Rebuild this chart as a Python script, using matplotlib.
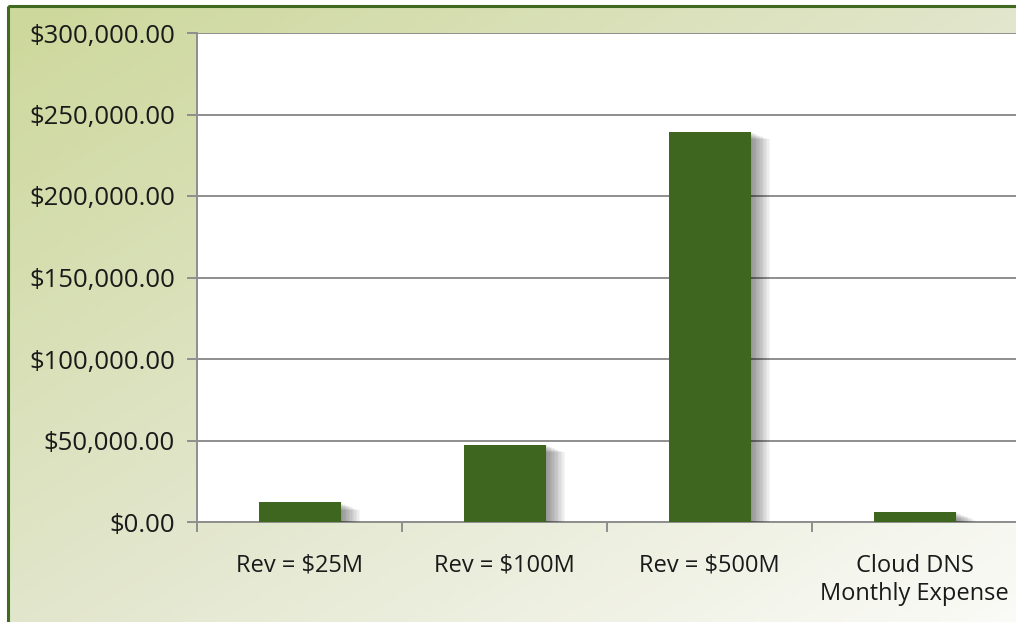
import numpy as np
import matplotlib.pyplot as plt
import matplotlib.patheffects as pe
from matplotlib.colors import LinearSegmentedColormap
from matplotlib.patches import Rectangle
from matplotlib.ticker import FuncFormatter, FixedLocator

plt.rcParams['font.family'] = ['Open Sans', 'DejaVu Sans']

categories = ['Rev = $25M', 'Rev = $100M', 'Rev = $500M', 'Cloud DNS\nMonthly Expense']
costs = [12000, 47500, 239500, 6300]
y_ticks = [0, 50000, 100000, 150000, 200000, 250000, 300000]

W, H = 1016, 622
fig = plt.figure(figsize=(W / 100, H / 100), dpi=100)

# background: white outside, green-to-white diagonal gradient inside border
bg = fig.add_axes([0, 0, 1, 1], zorder=-10)
bg.set_xlim(0, W)
bg.set_ylim(H, 0)
bg.axis('off')
u, v = np.meshgrid(np.linspace(0, 1, 300), np.linspace(0, 1, 200))
t = (u + v) / 2
cmap = LinearSegmentedColormap.from_list('bg', ['#cdd89b', '#e2e6cc', '#fbfbf8'])
bg.imshow(t, cmap=cmap, extent=(8, W + 10, H + 10, 6), aspect='auto')
bg.add_patch(Rectangle((8, 6), W + 20, H + 20, fill=False, edgecolor='#3f6a1f', lw=2.2))

ax = fig.add_axes([197 / W, 1 - 522 / H, 820 / W, 489 / H])
ax.set_facecolor('white')

x = np.arange(len(categories))
# soft drop shadow made of stacked offset copies
shadow = [pe.SimplePatchShadow(offset=(k, -k * 0.4), shadow_rgbFace='black', alpha=0.035)
          for k in range(1, 15)]
ax.bar(x, costs, width=0.4, color='#3e661e', zorder=3,
       path_effects=shadow + [pe.Normal()])

ax.set_xlim(-0.5, len(categories) - 0.5)
ax.set_ylim(0, 300000)
ax.yaxis.set_major_locator(FixedLocator(y_ticks))
ax.yaxis.set_major_formatter(FuncFormatter(lambda val, pos: f'${val:,.2f}'))
ax.grid(axis='y', color='#8e8e8e', lw=1.4, zorder=1)

ax.set_xticks(x)
ax.set_xticklabels(categories)
ax.set_xticks(np.arange(len(categories) + 1) - 0.5, minor=True)
ax.tick_params(axis='x', which='major', length=0, pad=23, labelsize=17, colors='#1a1a1a')
ax.tick_params(axis='x', which='minor', length=7, width=1.4, color='#8e8e8e')
ax.tick_params(axis='y', length=7, width=1.4, color='#8e8e8e', pad=9,
               labelsize=18.5, labelcolor='#1a1a1a')

for side in ['top', 'right']:
    ax.spines[side].set_visible(False)
for side in ['left', 'bottom']:
    ax.spines[side].set_color('#8e8e8e')
    ax.spines[side].set_linewidth(1.4)

fig.savefig('out.png', dpi=100)
